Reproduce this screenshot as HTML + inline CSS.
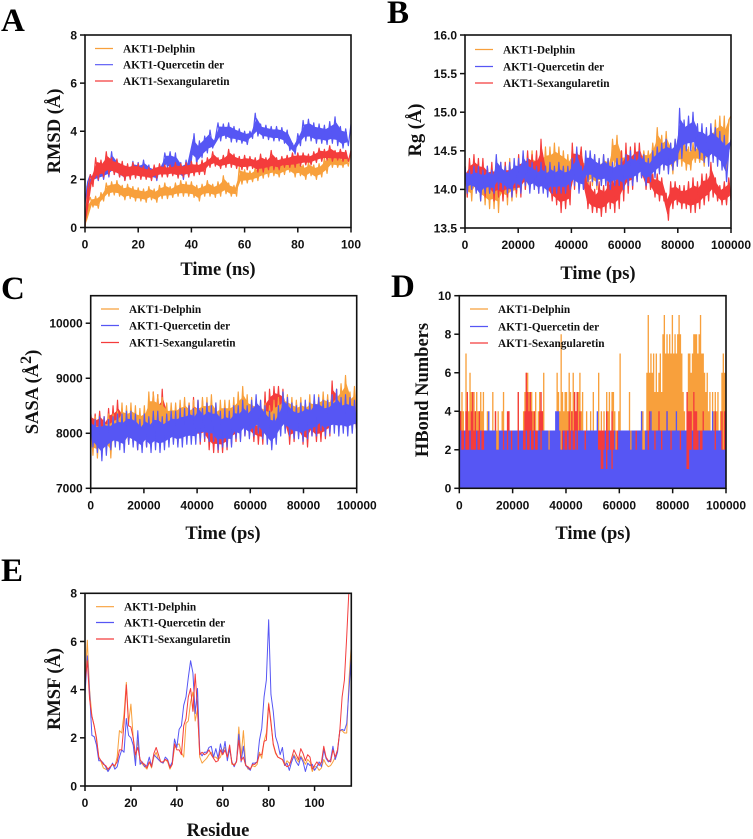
<!DOCTYPE html>
<html>
<head>
<meta charset="utf-8">
<title>AKT1 molecular dynamics panels</title>
<style>
html,body{margin:0;padding:0;background:#fff;}
#figure{display:block;width:753px;height:839px;filter:blur(0.35px);}
.tick{font-family:"Liberation Sans",sans-serif;font-weight:700;font-size:12px;fill:#111;}
.title{font-family:"Liberation Serif",serif;font-weight:700;font-size:18.5px;fill:#111;}
.legend{font-family:"Liberation Serif",serif;font-weight:700;font-size:11.3px;fill:#111;}
.letter{font-family:"Liberation Serif",serif;font-weight:700;font-size:33px;fill:#000;}
</style>
</head>
<body>
<svg id="figure" xmlns="http://www.w3.org/2000/svg" width="753" height="839" viewBox="0 0 753 839"></svg>
<script>
const seriesNames = ["AKT1-Delphin", "AKT1-Quercetin der", "AKT1-Sexangularetin"];

const rmsdXTicks = [0, 20, 40, 60, 80, 100];
const rmsdYTicks = [0, 2, 4, 6, 8];
const rmsdDelphin = [
0,1.0,1.25,0.85,1.3,0.8,1.45,1.1,1.85,1.3,
1.9,1.35,1.95,1.3,1.75,1.15,1.8,1.2,1.7,1.1,
1.65,1.1,1.6,1.05,1.7,1.15,1.6,1.05,1.75,1.2,
1.85,1.2,1.7,1.25,1.85,1.3,1.95,1.3,1.9,1.3,
1.9,1.25,1.75,1.1,1.8,1.3,1.95,1.3,1.8,1.25,
1.9,1.3,2.15,1.4,1.85,1.3,1.75,1.3,2.5,1.8,
2.4,1.85,2.35,1.9,2.5,1.95,2.6,2.05,2.75,2.1,
2.8,2.15,2.6,2.1,2.75,2.2,2.8,2.3,2.8,2.1,
2.75,2.15,2.6,2.0,2.7,2.15,2.6,2.0,2.65,2.1,
2.9,2.25,3.1,2.5,3.0,2.5,2.9,2.5,3.0,2.55,3.2];
const rmsdQuercetin = [
1.0,1.9,2.2,1.9,2.4,1.95,2.6,2.0,2.7,2.1,
3.15,2.2,2.8,2.1,2.7,1.95,2.6,2.05,2.75,2.1,
2.7,2.05,2.8,2.1,2.6,2.0,2.5,1.95,2.6,2.3,
3.1,2.5,3.15,2.3,3.1,2.1,2.7,2.0,2.8,2.1,
2.8,3.9,2.6,3.6,2.9,3.8,3.1,4.05,3.3,3.7,
4.35,3.6,4.3,3.7,4.35,3.55,4.2,3.55,4.1,3.5,
4.0,3.45,4.0,3.7,4.75,3.8,4.3,3.7,4.25,3.65,
4.2,3.6,4.2,3.6,4.15,3.5,4.05,3.2,3.5,3.05,
3.9,3.4,4.45,3.6,4.5,3.6,4.35,3.5,4.3,3.5,
4.25,3.45,4.4,3.5,4.6,3.4,4.2,3.3,4.1,3.4,4.3];
const rmsdSexangularetin = [
0,1.6,2.2,1.7,2.9,2.0,2.8,2.1,3.15,2.2,
2.9,2.2,2.85,2.1,2.75,1.95,2.65,2.0,2.7,2.05,
2.65,2.0,2.55,2.0,2.5,1.95,2.6,2.05,2.65,2.1,
2.6,2.1,2.6,2.15,2.7,2.05,2.65,2.1,2.7,2.1,
2.75,2.15,2.7,2.2,2.8,2.2,2.9,2.5,3.15,2.55,
2.9,2.45,3.0,2.5,3.25,2.5,3.05,2.45,2.95,2.4,
3.0,2.4,2.95,2.45,2.9,2.3,3.05,2.3,2.9,2.4,
3.2,2.4,2.9,2.4,2.95,2.5,3.0,2.5,3.1,2.5,
3.1,2.55,3.1,2.6,3.05,2.6,3.15,2.7,3.3,2.75,
3.25,2.8,3.4,2.75,3.2,2.8,3.25,2.75,3.2,2.75,3.2];

const rgXTicks = [0, 20000, 40000, 60000, 80000, 100000];
const rgYTicks = [13.5, 14.0, 14.5, 15.0, 15.5, 16.0];
const rgDelphin = [
14.3,13.9,14.3,13.85,14.35,13.95,14.3,13.85,14.3,13.8,14.25,13.75,
14.3,13.75,14.35,13.7,14.3,13.85,14.35,13.8,14.4,13.85,14.3,13.9,
14.35,13.95,14.45,14.0,14.4,14.0,14.5,14.0,14.45,14.0,14.5,14.05,
14.55,14.05,14.55,14.1,14.6,14.1,14.55,14.1,14.5,14.1,14.45,14.05,
14.55,14.1,14.5,14.0,14.45,14.05,14.4,14.0,14.45,14.05,14.45,14.0,
14.4,14.05,14.45,14.1,14.4,14.15,14.65,14.3,14.7,14.2,14.5,14.1,
14.5,14.15,14.45,14.1,14.4,14.15,14.5,14.2,14.5,14.25,14.5,14.25,
14.6,14.3,14.8,14.35,14.7,14.25,14.75,14.3,14.6,14.2,14.65,14.3,
14.7,14.3,14.65,14.25,14.55,14.25,14.6,14.35,14.55,14.35,14.6,14.3,
14.7,14.35,14.8,14.4,14.9,14.4,14.95,14.4,14.95,14.2,14.9,14.95];
const rgSexangularetin = [
14.3,13.9,14.4,14.0,14.45,14.0,14.4,13.95,14.4,13.9,14.3,13.95,
14.35,13.85,14.3,13.9,14.35,13.85,14.35,13.9,14.35,13.9,14.25,13.95,
14.45,13.9,14.45,14.0,14.5,14.05,14.45,14.05,14.5,13.95,14.65,14.1,
14.3,13.95,14.25,13.85,14.2,13.8,14.3,13.7,14.2,13.75,14.15,13.8,
14.6,14.0,14.5,14.3,14.55,14.0,14.2,13.75,14.1,13.7,14.0,13.7,
14.1,13.65,14.05,13.7,14.15,13.75,14.2,13.7,14.25,13.75,14.5,13.85,
14.6,13.95,14.55,14.0,14.6,14.1,14.6,14.15,14.4,14.0,14.35,14.0,
14.2,13.9,14.2,13.85,14.15,13.85,13.95,13.6,14.1,13.75,14.1,13.8,
14.05,13.75,14.05,13.75,14.1,13.7,14.15,13.7,14.1,13.75,14.2,13.8,
14.2,13.85,14.35,13.9,14.15,13.85,14.05,13.8,14.1,13.8,14.15,13.85];
const rgQuercetin = [
14.3,13.95,14.25,14.0,14.3,13.95,14.3,13.85,14.25,13.95,14.3,13.95,
14.25,13.95,14.45,14.0,14.35,14.0,14.3,13.95,14.35,13.9,14.4,14.0,
14.4,13.95,14.5,14.05,14.4,13.95,14.35,14.0,14.3,13.95,14.35,13.95,
14.3,13.9,14.35,13.95,14.3,13.95,14.35,13.95,14.3,13.95,14.3,14.0,
14.4,14.05,14.55,13.95,14.3,14.0,14.5,14.1,14.5,14.1,14.45,14.05,
14.4,14.05,14.45,14.05,14.4,14.0,14.35,14.05,14.4,14.05,14.4,14.0,
14.45,14.05,14.5,14.05,14.45,14.1,14.5,14.15,14.45,14.05,14.4,14.1,
14.5,14.15,14.55,14.2,14.6,14.25,14.65,14.2,14.6,14.25,14.65,14.3,
15.05,14.4,14.9,14.5,14.95,14.5,15.0,14.5,14.85,14.4,14.85,14.35,
14.8,14.3,14.85,14.35,14.8,14.3,14.75,14.25,14.7,14.1,14.5,14.65];

const sasaXTicks = [0, 20000, 40000, 60000, 80000, 100000];
const sasaYTicks = [7000, 8000, 9000, 10000];
const sasaSexangularetin = [
8400,7900,8350,7850,8400,7900,8300,7850,8450,7900,8500,7900,
8600,7900,8450,7850,8400,7800,8400,7800,8350,7700,8300,7750,
8350,7750,8550,7850,8750,7950,8700,7900,8800,7950,8500,7850,
8450,7850,8450,7800,8500,7900,8500,7900,8550,7900,8650,7900,
8600,7800,8600,7850,8550,7700,8350,7650,8350,7650,8300,7650,
8350,7700,8400,7800,8450,7850,8500,7900,8600,7950,8550,7950,
8500,7850,8500,7800,8400,7800,8750,7850,8800,8200,8850,8300,
8850,8200,8800,8100,8500,7800,8500,7850,8550,7950,8500,7800,
8500,7750,8450,7950,8450,7850,8500,7850,8500,7900,8600,7950,
8950,8200,8800,8200,8600,8100,8600,8100,8500,8100,8550,8050];
const sasaDelphin = [
8250,7600,8300,7550,8250,7600,8300,7700,8350,7550,8350,7800,
8400,7800,8550,7800,8500,7850,8550,7850,8500,7800,8450,7850,
8500,7850,8750,8000,8750,8000,8700,7950,8650,7950,8550,7900,
8550,7950,8550,7950,8600,8000,8650,7950,8550,7950,8600,7950,
8600,7950,8650,7950,8650,7950,8700,7900,8550,7850,8600,7950,
8600,7950,8600,7950,8650,8000,8750,8050,8850,8100,8700,8000,
8650,8000,8600,8000,8600,7950,8550,7900,8500,7950,8600,8000,
8650,8000,8750,8050,8700,8050,8650,8000,8600,8000,8650,8000,
8600,8000,8700,8000,8650,8050,8700,8100,8750,8100,8700,8100,
8700,8100,8800,8200,8900,8300,9050,8350,8750,8200,8850,8200];
const sasaQuercetin = [
8300,7750,8250,7650,8300,7500,8300,7600,8250,7700,8300,7750,
8350,7700,8350,7650,8400,7800,8400,7750,8350,7700,8250,7650,
8350,7750,8300,7650,8400,7700,8400,7650,8300,7700,8350,7750,
8400,7800,8400,7750,8450,7750,8450,7800,8500,7800,8450,7800,
8600,7850,8450,7900,8550,7850,8500,7850,8550,7700,8400,7750,
8450,7750,8400,7750,8500,7900,8500,7850,8600,7950,8500,7900,
8600,7950,8700,8000,8600,7900,8500,7800,8400,7700,8350,7800,
8500,7950,8750,8000,8650,7950,8550,7900,8500,7900,8550,7850,
8600,7900,8550,7950,8700,7950,8650,8050,8600,7950,8600,8000,
8700,8000,8800,7950,8650,8000,8700,7950,8650,8000,8600,8050];

const hbondXTicks = [0, 20000, 40000, 60000, 80000, 100000];
const hbondYTicks = [0, 2, 4, 6, 8, 10];
const hbondDelphin = [
3,4,5,4,3,7,4,4,6,5,4,5,4,5,4,4,5,4,5,3,
3,4,3,3,3,5,3,4,3,4,3,3,4,5,3,3,3,4,3,3,
3,3,3,3,5,3,3,3,4,5,6,6,5,5,5,4,4,5,3,4,
5,4,4,6,3,3,3,3,3,3,3,3,3,6,5,4,8,5,4,5,
5,4,6,5,4,6,5,4,5,5,6,4,5,3,3,4,3,3,4,3,
5,3,3,3,6,3,4,3,4,3,5,4,5,3,5,5,4,3,3,4,
7,3,3,3,3,3,3,5,3,3,3,3,3,3,3,3,4,4,3,3,
6,9,6,7,6,7,5,7,5,6,7,5,8,9,7,8,7,8,7,9,
7,8,7,8,9,8,7,5,4,3,5,7,7,6,7,8,8,8,7,8,
9,7,7,6,5,6,4,5,3,5,4,5,4,5,3,4,6,7,6,7];
const hbondSexangularetin = [
3,4,3,3,3,4,5,3,3,4,5,3,4,3,3,4,3,3,3,3,
3,3,3,3,3,3,3,4,2,2,3,3,3,3,3,3,4,4,3,3,
3,3,3,3,5,3,3,3,3,4,6,5,4,5,4,3,4,3,3,3,
4,5,4,3,3,3,3,2,3,3,3,3,3,3,3,3,2,3,3,3,
3,3,4,3,4,3,5,4,5,3,4,3,3,3,3,3,3,3,3,3,
3,2,3,3,3,3,3,3,3,3,4,3,3,3,4,3,2,2,3,3,
3,3,3,3,3,3,3,3,2,3,3,3,3,3,3,3,3,2,2,3,
3,3,4,3,3,3,3,3,3,4,3,3,3,3,3,4,3,3,3,3,
3,3,3,3,3,3,3,3,3,3,5,4,4,4,3,5,4,4,3,3,
3,3,4,3,3,3,3,3,3,3,3,4,3,3,3,3,4,2,4,3];
const hbondQuercetin = [
2,3,2,2,3,2,2,2,3,2,2,2,2,3,2,2,3,2,2,3,
3,3,4,3,3,3,3,3,2,2,3,3,3,2,3,3,2,3,3,2,
3,3,3,3,2,3,3,3,2,2,3,2,2,3,2,2,3,2,2,3,
3,2,3,3,3,3,3,2,3,3,3,3,4,4,4,3,2,2,3,2,
2,3,2,2,3,2,2,3,2,3,3,3,3,3,2,3,3,3,3,3,
3,3,3,4,2,2,1,1,2,3,1,2,3,2,1,2,3,2,2,3,
3,3,3,3,3,3,3,3,2,3,3,3,2,3,3,3,4,2,2,3,
3,2,3,4,3,3,2,3,3,3,3,2,3,3,3,4,3,3,2,3,
3,3,4,3,3,2,3,3,3,3,1,1,2,2,3,2,2,2,2,3,
2,2,3,3,3,3,3,3,3,4,3,2,3,3,3,3,2,2,2,3];

const rmsfXTicks = [0, 20, 40, 60, 80, 100];
const rmsfYTicks = [0, 2, 4, 6, 8];
const rmsfDelphin = [
4.2,6.05,4.0,2.9,2.5,1.9,1.2,1.0,0.75,0.7,
0.65,0.8,0.9,0.8,1.2,2.3,2.2,3.0,4.3,2.6,
3.4,2.0,1.1,1.9,1.0,0.9,0.8,0.7,1.0,0.75,
1.2,1.4,1.1,1.0,0.95,1.1,1.0,0.7,0.9,1.6,
1.7,1.75,1.4,1.2,2.6,2.7,3.5,3.9,2.7,3.2,
1.2,0.95,1.05,1.15,1.3,1.4,1.2,1.2,1.1,1.2,
1.5,1.6,1.2,1.6,0.9,0.9,1.0,2.45,1.2,2.3,
0.9,0.7,0.7,0.85,0.8,0.9,1.4,1.15,1.85,2.2,
3.45,2.7,1.7,1.35,1.2,1.15,1.1,0.85,1.05,0.95,
1.0,1.3,1.15,1.0,1.25,1.1,0.9,1.1,1.0,0.6,
0.8,0.8,0.65,0.75,1.1,0.9,0.8,0.85,1.0,1.2,
1.5,2.3,2.3,2.2,2.2,4.4,5.9];
const rmsfQuercetin = [
3.8,5.4,3.9,2.1,2.05,1.7,1.05,1.05,0.95,0.8,
0.6,0.75,0.95,0.7,0.8,1.2,1.5,1.4,2.8,2.1,
2.0,1.7,0.85,2.3,0.9,1.0,0.8,0.85,1.2,0.8,
1.3,1.2,1.1,1.0,0.95,1.2,1.1,0.8,1.0,1.95,
1.6,2.35,2.5,3.35,3.7,4.5,5.2,4.7,3.0,4.05,
1.4,1.25,1.4,1.4,1.6,1.65,1.2,1.55,1.15,1.75,
1.3,1.85,1.05,1.55,1.0,0.8,1.05,2.15,1.0,1.65,
0.85,0.75,0.65,0.95,0.95,1.0,1.9,2.4,3.7,4.4,
6.9,3.8,3.1,2.05,1.75,1.3,1.6,0.85,0.95,0.65,
1.0,1.25,1.0,0.85,1.2,1.0,0.6,0.95,0.85,0.9,
0.65,0.8,1.0,0.8,1.5,1.15,1.0,1.1,1.65,1.1,
1.4,2.3,2.35,2.3,2.6,4.0,5.5];
const rmsfSexangularetin = [
4.3,5.2,3.6,2.9,2.5,2.0,1.2,1.05,0.9,0.85,
0.7,0.8,0.9,0.85,1.0,1.5,1.5,2.6,4.2,2.5,
2.45,2.0,1.3,1.6,1.1,0.95,0.9,0.75,1.0,0.8,
1.35,1.6,1.3,1.0,1.0,1.1,1.05,0.75,0.9,1.75,
1.5,1.5,1.3,2.5,2.8,3.7,4.05,3.1,4.65,3.2,
1.3,1.4,1.3,1.35,1.5,1.3,1.15,1.0,1.05,1.5,
1.3,1.5,1.2,1.7,0.95,0.85,1.0,1.9,1.05,1.2,
0.85,0.8,0.7,0.9,0.9,1.0,1.3,1.3,1.85,1.9,
3.4,2.6,1.75,1.4,1.2,1.15,1.1,0.9,0.8,0.85,
1.15,1.5,1.3,1.1,1.55,1.35,1.05,1.3,1.2,0.7,
0.85,1.0,0.85,1.0,1.65,1.2,1.05,1.0,1.5,1.2,
1.5,2.3,3.7,4.4,6.2,8.2,8.6];

const ORANGE = "#F8A03C", BLUE = "#5656F4", RED = "#F43C3C";
const SVG_NS = "http://www.w3.org/2000/svg";
const root = document.getElementById("figure");

function mk(tag, attrs, parent, text) {
  const node = document.createElementNS(SVG_NS, tag);
  for (const k in attrs) node.setAttribute(k, attrs[k]);
  if (text !== undefined) node.textContent = text;
  parent.appendChild(node);
  return node;
}

function drawPanel(p) {
  const g = mk("g", {}, root);
  
  
  const sx = v => p.left + (v - p.xMin) / (p.xMax - p.xMin) * (p.right - p.left);
  const sy = v => p.bottom - (v - p.yMin) / (p.yMax - p.yMin) * (p.bottom - p.top);

  const clip = mk("clipPath", { id: "clip-" + p.key }, g);
  mk("rect", { x: p.left, y: p.top, width: p.right - p.left, height: p.bottom - p.top }, clip);

  const marks = mk("g", { "clip-path": "url(#clip-" + p.key + ")" }, g);
  
  

  p.series.forEach(s => {
    let d = "";
    const n = s.values.length;
    const tAt = i => p.xMin + i / (n - 1) * (p.xMax - p.xMin);
    s.values.forEach((v, i) => {
      if (p.bars) d += "M" + sx(tAt(i)).toFixed(2) + " " + sy(0).toFixed(2) + "V" + sy(v).toFixed(2);
      else d += (i ? "L" : "M") + sx(tAt(i)).toFixed(2) + " " + sy(v).toFixed(2);
    });
    if (p.band) {
      /* solid core of the noisy trace: the zigzag line adds the jagged edges */
      const upper = [], lower = [];
      for (let i = 0; i + 1 < n; i += 2) {
        const a = s.values[i], b = s.values[i + 1];
        const mid = (a + b) / 2, half = Math.abs(a - b) / 2 * p.band;
        const xm = sx((tAt(i) + tAt(i + 1)) / 2).toFixed(2);
        upper.push(xm + "," + sy(mid + half).toFixed(2));
        lower.unshift(xm + "," + sy(mid - half).toFixed(2));
      }
      const fillBand = mk("polygon", { points: upper.concat(lower).join(" "), fill: s.color }, marks);
      
      
    }
    const line = mk("path", { d: d, fill: "none", stroke: s.color, "stroke-width": p.lw, "stroke-linejoin": "round" }, marks);
    
    
  });

  const frame = mk("rect", { x: p.left, y: p.top, width: p.right - p.left, height: p.bottom - p.top, fill: "none", stroke: "#111", "stroke-width": 1.6 }, g);
  
  

  p.xTicks.forEach(v => {
    const tick = mk("line", { x1: sx(v), x2: sx(v), y1: p.bottom, y2: p.bottom + 5, stroke: "#111", "stroke-width": 1.5 }, g);
    
    
    const label = mk("text", { class: "tick", x: sx(v), y: p.bottom + 21, "text-anchor": "middle" }, g, String(v));
    
    
  });
  p.yTicks.forEach(v => {
    const tick = mk("line", { x1: p.left - 5, x2: p.left, y1: sy(v), y2: sy(v), stroke: "#111", "stroke-width": 1.5 }, g);
    
    
    const label = mk("text", { class: "tick", x: p.left - 8, y: sy(v) + 4.3, "text-anchor": "end" }, g, p.yFixed ? v.toFixed(p.yFixed) : String(v));
    
    
  });

  const xt = mk("text", { class: "title", x: p.xTitleX, y: p.xTitleY, "text-anchor": "middle" }, g, p.xTitle);
  
  

  const yt = mk("text", { class: "title", transform: "translate(" + p.yTitleX + " " + p.yTitleY + ") rotate(-90)", "text-anchor": "middle" }, g, p.yTitle);
  
  
  if (p.ySup) {
    const sup = mk("tspan", { dy: -7, "font-size": 16 }, yt, "2");
    
    
    const close = mk("tspan", { dy: 7 }, yt, ")");
    
    
  }

  const letter = mk("text", { class: "letter", x: p.letterX, y: p.letterY }, g, p.letter);
  
  

  const legendColors = [ORANGE, BLUE, RED];
  seriesNames.forEach((name, i) => {
    const y = p.legendYs[i];
    const entry = mk("g", {}, g);
    
    
    const swatch = mk("line", { x1: p.legendX, x2: p.legendX + 18, y1: y, y2: y, stroke: legendColors[i], "stroke-width": 1.2 }, entry);
    
    
    const label = mk("text", { class: "legend", x: p.legendX + 28, y: y + 3.8 }, entry, name);
    
    
  });
}

drawPanel({ key: "a", letter: "A", letterX: 1, letterY: 31, left: 85, right: 351, top: 35, bottom: 227.5,
  xMin: 0, xMax: 100, yMin: 0, yMax: 8, xTicks: rmsdXTicks, yTicks: rmsdYTicks, lw: 1.2, band: 0.6,
  xTitle: "Time (ns)", xTitleX: 218, xTitleY: 275, yTitle: "RMSD (Å)", yTitleX: 60, yTitleY: 131,
  legendX: 95, legendYs: [48.5, 64.7, 81],
  series: [
    { name: seriesNames[0], values: rmsdDelphin, color: ORANGE },
    { name: seriesNames[1], values: rmsdQuercetin, color: BLUE },
    { name: seriesNames[2], values: rmsdSexangularetin, color: RED }
  ] });

drawPanel({ key: "b", letter: "B", letterX: 387, letterY: 23, left: 465, right: 731, top: 35, bottom: 228,
  xMin: 0, xMax: 100000, yMin: 13.5, yMax: 16, xTicks: rgXTicks, yTicks: rgYTicks, yFixed: 1, lw: 1.2, band: 0.55,
  xTitle: "Time (ps)", xTitleX: 598, xTitleY: 279, yTitle: "Rg (Å)", yTitleX: 421, yTitleY: 130,
  legendX: 475, legendYs: [49.5, 66.5, 83],
  series: [
    { name: seriesNames[0], values: rgDelphin, color: ORANGE },
    { name: seriesNames[2], values: rgSexangularetin, color: RED },
    { name: seriesNames[1], values: rgQuercetin, color: BLUE }
  ] });

drawPanel({ key: "c", letter: "C", letterX: 1, letterY: 299, left: 90.7, right: 356.7, top: 295.7, bottom: 488.3,
  xMin: 0, xMax: 100000, yMin: 7000, yMax: 10500, xTicks: sasaXTicks, yTicks: sasaYTicks, lw: 1.2, band: 0.55,
  xTitle: "Time (ps)", xTitleX: 223, xTitleY: 539, yTitle: "SASA (Å", ySup: true, yTitleX: 38, yTitleY: 392,
  legendX: 101, legendYs: [309, 325.5, 342.5],
  series: [
    { name: seriesNames[2], values: sasaSexangularetin, color: RED },
    { name: seriesNames[0], values: sasaDelphin, color: ORANGE },
    { name: seriesNames[1], values: sasaQuercetin, color: BLUE }
  ] });

drawPanel({ key: "d", letter: "D", letterX: 391, letterY: 297, left: 459.3, right: 726, top: 295.7, bottom: 488.3,
  xMin: 0, xMax: 100000, yMin: 0, yMax: 10, xTicks: hbondXTicks, yTicks: hbondYTicks, lw: 1.34, bars: true,
  xTitle: "Time (ps)", xTitleX: 593, xTitleY: 539, yTitle: "HBond Numbers", yTitleX: 428, yTitleY: 390,
  legendX: 470, legendYs: [309, 326.5, 343],
  series: [
    { name: seriesNames[0], values: hbondDelphin, color: ORANGE },
    { name: seriesNames[2], values: hbondSexangularetin, color: RED },
    { name: seriesNames[1], values: hbondQuercetin, color: BLUE }
  ] });

drawPanel({ key: "e", letter: "E", letterX: 1, letterY: 581, left: 85, right: 351.3, top: 593.3, bottom: 786,
  xMin: 0, xMax: 116, yMin: 0, yMax: 8, xTicks: rmsfXTicks, yTicks: rmsfYTicks, lw: 1,
  xTitle: "Residue", xTitleX: 218, xTitleY: 836, yTitle: "RMSF (Å)", yTitleX: 60, yTitleY: 689,
  legendX: 96, legendYs: [606.7, 622.5, 639],
  series: [
    { name: seriesNames[0], values: rmsfDelphin, color: ORANGE },
    { name: seriesNames[1], values: rmsfQuercetin, color: BLUE },
    { name: seriesNames[2], values: rmsfSexangularetin, color: RED }
  ] });
</script>
</body>
</html>
